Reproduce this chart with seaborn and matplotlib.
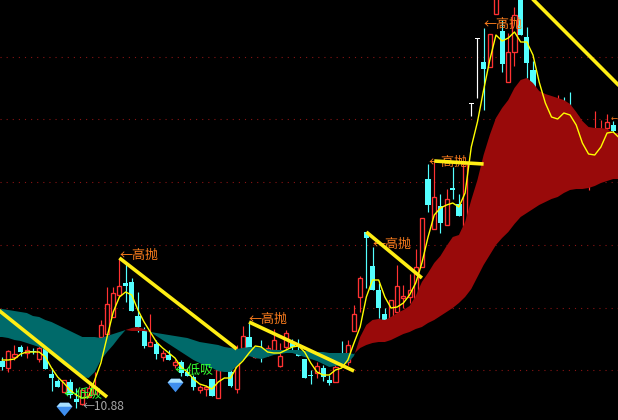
import numpy as np
import pandas as pd
import seaborn as sns
from matplotlib import pyplot as plt
from matplotlib.path import Path

wick_high = [357,350,345,345,346,348,346,348,368,379,380,379,388,388,385,372,320,287,287,258,
             263,278,292,327,314,340,350,350,359,360,368,375,385,385,379,370,352,367,345,326,
             322,350,340,345,329,343,330,339,339,359,370,362,365,375,353,341,340,305,276,232,
             247,283,308,300,265,285,274,249,218,164,162,194,189,167,194,163,103,38,28,34,
             -5,20,33,7,-8,27,61,92,96,100,95,97,92,114,123,130,111,120,114,121]
wick_low = [370,372,360,356,358,354,362,369,391,387,392,398,408,405,397,394,337,337,317,297,
            302,311,332,348,346,359,361,360,368,376,376,390,393,396,396,398,362,387,393,348,
            350,358,362,356,352,367,350,350,356,378,384,378,381,385,382,358,365,331,312,288,
            290,318,322,320,312,308,303,298,267,212,229,233,225,199,216,226,116,98,110,67,
            14,72,82,66,35,78,95,100,110,115,125,125,130,135,140,190,145,145,140,140]
body_top = [361,351,354,347,350,351,348,348,374,381,380,382,399,390,388,387,325,304,293,286,
            283,282,316,331,342,344,353,355,362,362,372,377,387,387,379,370,354,372,362,336,
            337,352,350,348,340,356,333,342,353,359,375,366,368,380,367,353,345,314,278,232,
            266,290,314,300,286,296,290,267,218,179,197,206,199,188,204,163,103,38,62,34,
            -5,31,52,15,-8,37,70,95,100,105,105,110,110,116,126,132,132,130,122,125]
body_bot = [367,368,357,352,353,352,359,369,378,387,392,395,402,404,397,394,337,334,317,295,
            286,311,327,346,346,354,357,360,365,373,376,387,390,389,396,398,360,386,389,348,
            348,357,358,354,350,366,347,347,356,378,376,373,377,383,382,354,362,331,297,238,
            290,308,320,318,312,298,297,298,267,205,229,223,225,190,216,226,104,39,69,67,
            14,64,82,52,35,63,87,97,105,112,115,118,120,130,135,180,140,140,128,131]
candle_kind = ['c','r','r','c','r','c','r','c','c','c','r','c','c','r','r','r','r','r','r','r',
               'c','c','c','c','r','c','r','c','r','c','c','c','r','r','c','r','c','c','r','r',
               'c','r','c','r','r','r','r','c','c','c','c','r','c','c','r','c','r','r','r','c',
               'c','c','c','r','r','r','r','r','r','c','r','c','r','c','c','r','w','w','c','r',
               'r','c','r','r','c','c','c','c','r','r','r','c','c','r','r','r','r','r','r','c']

avg_line = [360,360,359,354,352,352,352,357,368,377,383,390,395,398,397,380,363,337,312,297,
            292,295,310,322,332,342,348,353,358,367,372,379,384,386,389,382,378,378,367,361,
            353,346,347,352,353,353,350,347,346,352,363,372,375,375,370,368,360,343,327,297,
            280,280,297,308,307,303,295,283,263,237,215,208,205,203,207,193,147,122,90,60,
            35,41,38,32,42,42,55,82,103,117,119,113,115,125,143,154,155,147,133,132,138]

# the band between these two lines is teal when fast sits below slow, red otherwise
band_fast = [337,338,340,341,343,345,347,350,355,360,365,369,374,377,378,372,360,352,345,337,
             330,328,327,329,332,336,340,344,348,352,356,360,363,366,368,371,372,372,366,360,
             356,358,359,357,355,354,353,353,355,357,359,361,364,367,366,365,363,356,337,325,
             320,319,320,317,313,310,306,296,282,273,263,256,246,237,235,222,200,180,155,135,
             118,108,100,88,80,78,83,91,94,96,98,100,104,112,121,127,128,128,129,133]
band_slow = [309,310,311,312,313,316,317,320,322,325,328,331,334,337,337,337,338,336,334,332,
             330,331,331,331,332,333,334,335,336,337,338,340,342,343,344,345,347,348,349,348,
             347,347,348,349,350,350,350,350,350,351,351,352,352,353,353,353,353,354,348,345,
             343,342,342,340,337,334,332,329,327,323,320,316,312,308,303,297,289,277,265,255,
             245,238,232,224,217,213,209,205,202,199,197,193,190,189,189,188,186,183,181,179]

# thick sell lines, candle index and level at both ends
trend_start = [-1, 19, 40, 59, 70, 84]
trend_end = [17, 38, 57, 68, 78, 100]
trend_start_level = [308, 258, 322, 232, 161, -13]
trend_end_level = [397, 349, 371, 278, 164, 86]

sell_idx = [19, 40, 60, 69, 78]
sell_level = [255, 319, 244, 162, 24]
buy_idx = [10, 28]
buy_level = [395, 371]
gem_idx = [10, 28]
gem_level = [409, 385]
low_idx = 13
low_level = 407
low_label = '←10.88'
grid_levels = [57, 119, 182, 245, 308, 370]

sns.set_theme(style='dark', rc={'figure.facecolor': 'black', 'axes.facecolor': 'black'})
plt.rcParams['font.family'] = ['Noto Sans CJK SC', 'DejaVu Sans']

fig = plt.figure(figsize=(6.18, 4.2), dpi=100)
ax = fig.add_axes([0, 0, 1, 1])
ax.set_xlim(-0.345, 99.77)
ax.set_ylim(420, 0)
ax.set_yticks(grid_levels)
ax.set_xticks([])
ax.tick_params(left=False, labelleft=False)
ax.grid(axis='y', color='#8a1414', linestyle=(0, (1, 4.5)), linewidth=0.8)
ax.set_axisbelow(True)
for s in ax.spines.values():
    s.set_visible(False)

colors = {'r': '#ff3232', 'c': '#54ffff', 'w': '#ffffff'}
idx = np.arange(len(body_top))
kinds = np.array(candle_kind)
top = np.array(body_top)
bot = np.array(body_bot)
for k in ['r', 'c', 'w']:
    m = kinds == k
    ax.vlines(idx[m], np.array(wick_high)[m], np.array(wick_low)[m], color=colors[k], linewidth=0.85, zorder=2)
    if k == 'r':
        ax.bar(idx[m], bot[m] - top[m], bottom=top[m], width=0.66, facecolor='black',
               edgecolor=colors[k], linewidth=0.95, zorder=3)
    else:
        ax.bar(idx[m], bot[m] - top[m], bottom=top[m], width=0.84, color=colors[k], linewidth=0, zorder=3)
# the T ticks on the white candles
white = kinds == 'w'
ax.bar(idx[white], 1, bottom=top[white], width=0.7, color='white', linewidth=0, zorder=3)

# band
band_x = np.arange(-1, 101)
fast = np.pad(np.array(band_fast, dtype=float), 1, mode='edge')
slow = np.pad(np.array(band_slow, dtype=float), 1, mode='edge')
ax.fill_between(band_x, fast, slow, where=fast >= slow, interpolate=True, color='#006a6a', linewidth=0, zorder=4)
ax.fill_between(band_x, fast, slow, where=fast <= slow, interpolate=True, color='#990a0a', linewidth=0, zorder=4)

avg = pd.DataFrame({'idx': np.arange(len(avg_line)), 'level': avg_line})
sns.lineplot(data=avg, x='idx', y='level', color='#ffff00', linewidth=1.0, estimator=None, ax=ax, zorder=5)

cjk = ['Noto Sans CJK SC', 'DejaVu Sans']
for i, lev in zip(sell_idx, sell_level):
    ax.text(i, lev, '←高抛', color='#ff7f1e', fontsize=9.4, family=cjk, ha='left', va='center', zorder=6)
for i, lev in zip(buy_idx, buy_level):
    ax.text(i, lev, '←低吸', color='#33ff33', fontsize=9.4, family=cjk, ha='left', va='center', zorder=6)
ax.text(low_idx, low_level, low_label, color='#a8a8a8', fontsize=8.6, family=cjk, ha='left', va='center', zorder=6)
# only the tip of the last arrow is inside the window
ax.text(99.75, 119, '←', color='#ff7f1e', fontsize=5, family=cjk, ha='right', va='center', zorder=6)

for a, b, c, d in zip(trend_start, trend_end, trend_start_level, trend_end_level):
    seg = pd.DataFrame({'idx': [a, b], 'level': [c, d]})
    sns.lineplot(data=seg, x='idx', y='level', color='#ffee14', linewidth=2.6, estimator=None, ax=ax, zorder=7,
                 solid_capstyle='butt')

# diamonds
gem = Path([(-1, 0.35), (-0.55, 0.85), (0.55, 0.85), (1, 0.35), (0, -0.85), (-1, 0.35)], closed=True)
gem_top = Path([(-1, 0.35), (-0.55, 0.85), (0.55, 0.85), (1, 0.35), (-1, 0.35)], closed=True)
gems = pd.DataFrame({'idx': gem_idx, 'level': gem_level})
sns.scatterplot(data=gems, x='idx', y='level', marker=gem, s=130, color='#3f8fee', linewidth=0, ax=ax, zorder=8)
sns.scatterplot(data=gems, x='idx', y='level', marker=gem_top, s=130, color='#a8e0ff', linewidth=0, ax=ax, zorder=9)
ax.set_xlabel('')
ax.set_ylabel('')
ax.set_xlim(-0.345, 99.77)
ax.set_ylim(420, 0)

fig.savefig('out.png', dpi=100, facecolor='black')
